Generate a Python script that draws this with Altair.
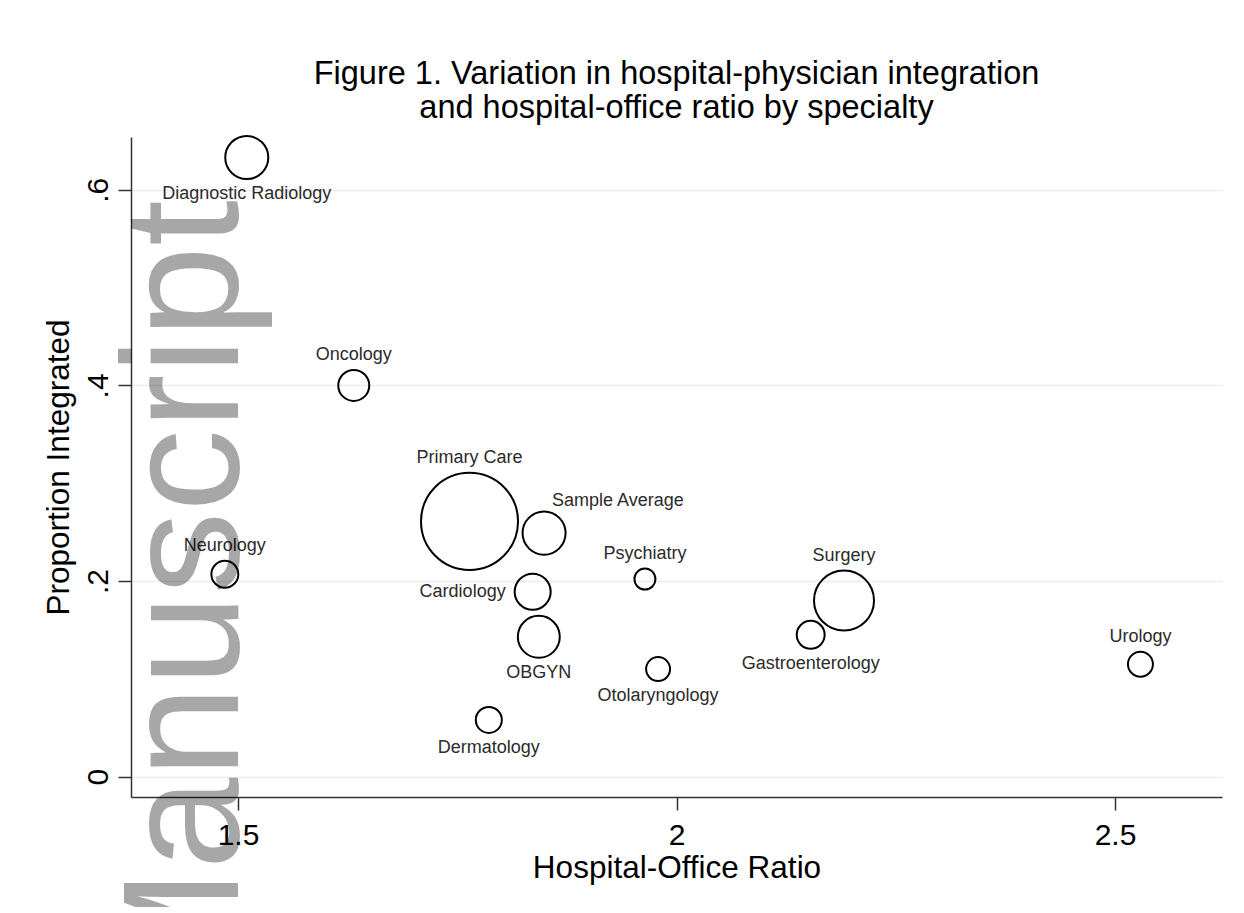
import altair as alt
import pandas as pd

# ---- data ----
specialties = [
    "Diagnostic Radiology", "Oncology", "Primary Care", "Sample Average",
    "Neurology", "Psychiatry", "Cardiology", "OBGYN", "Surgery",
    "Gastroenterology", "Otolaryngology", "Urology", "Dermatology",
]
hospital_office_ratio = [1.510, 1.632, 1.764, 1.849, 1.485, 1.964, 1.836,
                         1.843, 2.191, 2.153, 1.979, 2.529, 1.786]
proportion_integrated = [0.633, 0.400, 0.261, 0.249, 0.207, 0.202, 0.189,
                         0.143, 0.180, 0.145, 0.110, 0.115, 0.058]
# relative marker weight (Primary Care = 1)
weight = [0.197, 0.102, 1.000, 0.197, 0.077, 0.047, 0.138,
          0.187, 0.383, 0.083, 0.061, 0.066, 0.072]

x_ticks = [1.5, 2, 2.5]
y_ticks = [0, 0.2, 0.4, 0.6]

title_lines = ["Figure 1. Variation in hospital-physician integration",
               "and hospital-office ratio by specialty"]
watermark = ["Manuscript"]

# label placement (Stata-style clock positions) -- style, not data
LABEL_POS = {
    "Diagnostic Radiology": "below", "OBGYN": "below", "Gastroenterology": "below",
    "Otolaryngology": "below", "Dermatology": "below",
    "Cardiology": "left", "Sample Average": "ne",
}

df = pd.DataFrame({
    "specialty": specialties,
    "ratio": hospital_office_ratio,
    "prop": proportion_integrated,
    "weight": weight,
})
df["pos"] = [LABEL_POS.get(s, "above") for s in specialties]

FONT = "Liberation Sans"
W, H = 1091, 660
MAX_AREA = 97 * 97

xs = alt.Scale(domain=[1.378, 2.622], nice=False, zero=False)
ys = alt.Scale(domain=[-0.0208, 0.654], nice=False, zero=False)

x_enc = alt.X(
    "ratio:Q", scale=xs, title="Hospital-Office Ratio",
    axis=alt.Axis(values=x_ticks, labelExpr="format(datum.value, '~g')",
                  grid=False, tickSize=13, labelPadding=10, labelFontSize=30,
                  titleFontSize=31.5, titleFontWeight="normal",
                  titleBaseline="alphabetic", titleY=80, titleX=W / 2,
                  titleAnchor="middle"),
)
y_enc = alt.Y(
    "prop:Q", scale=ys, title="Proportion Integrated",
    axis=alt.Axis(values=y_ticks,
                  labelExpr="datum.value == 0 ? '0' : replace(format(datum.value, '.1f'), '0.', '.')",
                  grid=True, gridColor="#ececec", gridWidth=1.5,
                  tickSize=13, labelPadding=11, labelFontSize=30,
                  labelAngle=270, labelAlign="center", labelBaseline="alphabetic",
                  titleFontSize=31.5, titleFontWeight="normal", titleAngle=270,
                  titleBaseline="alphabetic", titleAlign="center",
                  titleX=-63, titleY=H / 2),
)

base = alt.Chart(df)

circles = base.mark_point(shape="circle", filled=False, stroke="black",
                          strokeWidth=2, opacity=1).encode(
    x=x_enc, y=y_enc,
    size=alt.Size("weight:Q", scale=alt.Scale(domain=[0, 1], range=[0, MAX_AREA], zero=True),
                  legend=None),
)

labels = base.transform_calculate(
    r="sqrt(%d * datum.weight) / 2 + 1" % MAX_AREA
).transform_calculate(
    ldx="datum.pos == 'left' ? -(datum.r + 8) : (datum.pos == 'ne' ? 8 : 0)",
    ldy="datum.pos == 'above' ? -(datum.r + 14) : (datum.pos == 'below' ? datum.r + 14 : (datum.pos == 'ne' ? -(datum.r + 10) : 0))",
    lalign="datum.pos == 'left' ? 'right' : (datum.pos == 'ne' ? 'left' : 'center')",
).mark_text(
    font=FONT, fontSize=18, color="#2b2b2b", baseline="middle",
    dx=alt.ExprRef(expr="datum.ldx"), dy=alt.ExprRef(expr="datum.ldy"),
    align=alt.ExprRef(expr="datum.lalign"),
).encode(x="ratio:Q", y="prop:Q", text="specialty:N")

wm = alt.Chart(pd.DataFrame({"t": watermark})).mark_text(
    font=FONT, fontSize=165, angle=270, align="left", baseline="alphabetic",
    color="black", opacity=0.34,
).encode(text="t:N", x=alt.value(107), y=alt.value(870))

chart = alt.layer(circles, labels, wm).properties(
    width=W, height=H,
    title=alt.TitleParams(text=title_lines, fontSize=32.5, font=FONT,
                          fontWeight="normal", color="black", anchor="middle",
                          lineHeight=34, baseline="bottom", offset=-25),
    autosize=alt.AutoSizeParams(type="none"),
    padding={"left": 123, "top": 129, "right": 14, "bottom": 110},
    background="white",
).configure_view(stroke=None).configure_axis(
    labelFont=FONT, titleFont=FONT, labelColor="black", titleColor="black",
    domainColor="#333333", tickColor="#333333", domainWidth=1.5, tickWidth=1.5,
)

chart.save("out.html", embed_options={"renderer": "svg", "actions": False})
